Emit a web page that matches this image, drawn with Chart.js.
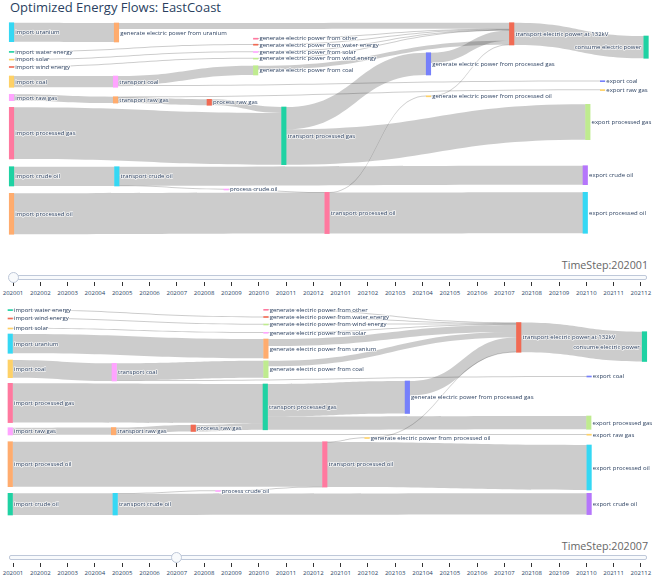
<!DOCTYPE html>
<html>
<head>
<meta charset="utf-8">
<script src="https://cdn.jsdelivr.net/npm/chart.js@4"></script>
<style>
  body { margin: 0; width: 654px; height: 580px; background: #fff; position: relative; overflow: hidden; font-family: "Open Sans", sans-serif; }
  #title { position: absolute; left: 10px; top: 0px; font-size: 13px; line-height: 1.2; color: #2a3f5f; white-space: nowrap; }
  canvas { position: absolute; left: 0; }
  .cv { position: absolute; right: 6px; font-size: 10.7px; line-height: 1; color: #666; white-space: nowrap; }
  .rail { position: absolute; left: 9px; width: 636px; height: 3px; background: #f8fafc; border: 1px solid #bec8d9; border-radius: 2px; }
  .grip { position: absolute; width: 9px; height: 9px; border-radius: 50%; background: #f8fafc; border: 1px solid #bec8d9; }
  .tick { position: absolute; width: 1px; height: 4px; background: #333; }
  .tl { position: absolute; font-size: 6px; line-height: 1; color: #2a3f5f; transform: translateX(-50%); white-space: nowrap; }
</style>
</head>
<body>
<div id="title">Optimized Energy Flows: EastCoast</div>
<canvas id="sankeyJan" width="654" height="220" style="top:18px"></canvas>
<canvas id="sankeyJul" width="654" height="220" style="top:303px"></canvas>

<script>
// ---- data ----
const timeSteps = ['202001', '202002', '202003', '202004', '202005', '202006', '202007', '202008',
  '202009', '202010', '202011', '202012', '202101', '202102', '202103', '202104', '202105', '202106',
  '202107', '202108', '202109', '202110', '202111', '202112'];

const nodeNames = [
  'import uranium', 'import water energy', 'import solar', 'import wind energy', 'import coal',
  'import raw gas', 'import processed gas', 'import crude oil', 'import processed oil',
  'generate electric power from uranium', 'transport coal', 'transport raw gas', 'transport crude oil',
  'process raw gas', 'process crude oil',
  'generate electric power from other', 'generate electric power from water energy',
  'generate electric power from solar', 'generate electric power from wind energy',
  'generate electric power from coal', 'transport processed gas', 'transport processed oil',
  'generate electric power from processed gas', 'generate electric power from processed oil',
  'transport electric power at 132kV', 'export processed gas', 'export crude oil',
  'export processed oil', 'export coal', 'export raw gas', 'consume electric power'
];

const linkSources = [
  'import uranium', 'import water energy', 'import solar', 'import wind energy', 'import coal',
  'import raw gas', 'import processed gas', 'import crude oil', 'import processed oil',
  'transport coal', 'transport coal', 'transport raw gas', 'transport raw gas',
  'transport crude oil', 'transport crude oil', 'process raw gas', 'process crude oil',
  'transport processed gas', 'transport processed gas', 'transport processed oil', 'transport processed oil',
  'generate electric power from uranium', 'generate electric power from other',
  'generate electric power from water energy', 'generate electric power from solar',
  'generate electric power from wind energy', 'generate electric power from coal',
  'generate electric power from processed gas', 'generate electric power from processed oil',
  'transport electric power at 132kV'
];
const linkTargets = [
  'generate electric power from uranium', 'generate electric power from water energy',
  'generate electric power from solar', 'generate electric power from wind energy', 'transport coal',
  'transport raw gas', 'transport processed gas', 'transport crude oil', 'transport processed oil',
  'generate electric power from coal', 'export coal', 'process raw gas', 'export raw gas',
  'export crude oil', 'process crude oil', 'transport processed gas', 'transport processed oil',
  'generate electric power from processed gas', 'export processed gas',
  'generate electric power from processed oil', 'export processed oil',
  'transport electric power at 132kV', 'transport electric power at 132kV',
  'transport electric power at 132kV', 'transport electric power at 132kV',
  'transport electric power at 132kV', 'transport electric power at 132kV',
  'transport electric power at 132kV', 'transport electric power at 132kV',
  'consume electric power'
];

// flow values per time step
const flowJan = [19, 0.6, 0.4, 0.4, 11.3, 6.4, 51.7, 19.3, 41,
  9.3, 0.8, 6, 0.4, 19, 0.3, 6, 0.3, 22.3, 35.4, 0.3, 41,
  6, 0.4, 0.6, 0.4, 0.4, 4, 10.2, 0.3, 22.3];
const flowJul = [19.3, 0.8, 0.5, 0.5, 17.7, 7.3, 39.3, 21.7, 45,
  16.9, 0.8, 6.5, 0.8, 21.3, 0.4, 6.5, 0.4, 32.5, 13.3, 0.4, 45,
  7, 0.5, 0.8, 0.6, 0.5, 5.5, 14.5, 0.4, 29.8];

// node placement (stage along the chain 0-100, level = top of node in flow units)
const stageJan = [0.55, 0.55, 0.55, 0.55, 0.55, 0.55, 0.55, 0.55, 0.55,
  16.95, 16.8, 16.8, 17, 31.45, 34.1, 38.7, 38.7, 38.7, 38.7, 38.7,
  43.1, 49.85, 65.7, 65.7, 78.7, 90.6, 90.2, 90.2, 92.9, 92.9, 99.7];
const levelJan = [4.7, 33.4, 41.1, 48.5, 58, 76.3, 89.3, 148.7, 175.3,
  5, 58, 78.7, 148.7, 81.3, 171, 20.2, 26.2, 33.5, 40.1, 47.7,
  89, 174.3, 34.7, 77.8, 4.7, 86.3, 147.7, 174.3, 62.7, 71.6, 18];
const stageJul = [0.35, 0.35, 0.35, 0.35, 0.35, 0.35, 0.35, 0.35, 0.35,
  40.3, 16.6, 16.5, 16.75, 28.95, 32.8, 40.3, 40.3, 40.3, 40.3, 40.3,
  40.2, 49.5, 62.4, 56.1, 79.8, 90.75, 90.8, 90.8, 90.8, 90.8, 99.45];
const levelJul = [31, 6.6, 25, 15, 57, 124.7, 80.3, 190.3, 138.7,
  36, 60.3, 124.5, 190.3, 122, 187.5, 6.3, 13.5, 29.3, 21, 57.8,
  81, 138.7, 78, 134.5, 19.5, 113, 190.3, 142, 73, 131.2, 28.7];

// ---- styles ----
const nodeColors = ['#19d3f3', '#00cc96', '#FECB52', '#EF553B', '#FECB52', '#FF97FF', '#FF6692', '#00cc96', '#FFA15A',
  '#FFA15A', '#FF97FF', '#FFA15A', '#19d3f3', '#EF553B', '#FF97FF', '#FF6692', '#EF553B', '#FF97FF', '#B6E880', '#B6E880',
  '#00cc96', '#FF6692', '#636efa', '#FECB52', '#EF553B', '#B6E880', '#AB63FA', '#19d3f3', '#636efa', '#FECB52', '#00cc96'];
const NODE_W = 4.5;
const MIN_LINK_PX = 1;
const LINK_COLOR = 'rgba(0,0,0,0.2)';
const LABEL_COLOR = '#2a3f5f';

const srcIdx = linkSources.map(n => nodeNames.indexOf(n));
const tgtIdx = linkTargets.map(n => nodeNames.indexOf(n));

function nodeHeights(values) {
  return nodeNames.map((_, i) => {
    let inSum = 0, outSum = 0;
    values.forEach((v, k) => {
      if (tgtIdx[k] === i) inSum += v;
      if (srcIdx[k] === i) outSum += v;
    });
    return Math.max(inSum, outSum);
  });
}

// stack links on each node, ordered by the vertical position of the other end
function stackLinks(values, levels, heights) {
  const centre = i => levels[i] + heights[i] / 2;
  const outStart = [], inStart = [];
  const ids = values.map((_, k) => k);
  nodeNames.forEach((_, n) => {
    let off = levels[n];
    ids.filter(k => srcIdx[k] === n)
      .sort((a, b) => centre(tgtIdx[a]) - centre(tgtIdx[b]))
      .forEach(k => { outStart[k] = off; off += values[k]; });
    off = levels[n];
    ids.filter(k => tgtIdx[k] === n)
      .sort((a, b) => centre(srcIdx[a]) - centre(srcIdx[b]))
      .forEach(k => { inStart[k] = off; off += values[k]; });
  });
  return { outStart, inStart };
}

// widen very thin bands a little so they stay visible
function band(y, from, v) {
  let p0 = y.getPixelForValue(from), p1 = y.getPixelForValue(from + v);
  if (Math.abs(p1 - p0) < MIN_LINK_PX) {
    const m = (p0 + p1) / 2;
    p0 = m - MIN_LINK_PX / 2; p1 = m + MIN_LINK_PX / 2;
  }
  return [p0, p1];
}

const sankeyPlugin = {
  id: 'sankey',
  beforeDatasetsDraw(chart, args, opts) {
    const { ctx, scales: { x, y } } = chart;
    const { values, stages, levels } = opts;
    const heights = nodeHeights(values);
    const { outStart, inStart } = stackLinks(values, levels, heights);
    ctx.save();
    ctx.fillStyle = LINK_COLOR;
    values.forEach((v, k) => {
      const s = srcIdx[k], t = tgtIdx[k];
      const x0 = x.getPixelForValue(stages[s]) + NODE_W / 2;
      const x1 = x.getPixelForValue(stages[t]) - NODE_W / 2;
      const [a0, a1] = band(y, outStart[k], v);
      const [b0, b1] = band(y, inStart[k], v);
      const xm = (x0 + x1) / 2;
      ctx.beginPath();
      ctx.moveTo(x0, a0);
      ctx.bezierCurveTo(xm, a0, xm, b0, x1, b0);
      ctx.lineTo(x1, b1);
      ctx.bezierCurveTo(xm, b1, xm, a1, x0, a1);
      ctx.closePath();
      ctx.fill();
    });
    ctx.restore();
  },
  afterDatasetsDraw(chart, args, opts) {
    const { ctx, scales: { x, y } } = chart;
    const { values, stages, levels } = opts;
    const heights = nodeHeights(values);
    ctx.save();
    ctx.font = '6px "Open Sans"';
    ctx.textBaseline = 'middle';
    ctx.lineJoin = 'round';
    nodeNames.forEach((name, i) => {
      const cy = y.getPixelForValue(levels[i] + heights[i] / 2);
      const cx = x.getPixelForValue(stages[i]);
      let tx;
      if (stages[i] > 95) { ctx.textAlign = 'right'; tx = cx - NODE_W / 2 - 2.5; }
      else { ctx.textAlign = 'left'; tx = cx + NODE_W / 2 + 1.5; }
      ctx.strokeStyle = 'rgba(255,255,255,0.75)';
      ctx.lineWidth = 1.6;
      ctx.strokeText(name, tx, cy + 0.3);
      ctx.fillStyle = LABEL_COLOR;
      ctx.fillText(name, tx, cy + 0.3);
    });
    ctx.restore();
  }
};

function drawSankey(id, values, stages, levels) {
  const heights = nodeHeights(values);
  return new Chart(document.getElementById(id), {
    type: 'bar',
    data: {
      datasets: [{
        data: nodeNames.map((_, i) => ({ x: stages[i], y: [levels[i], levels[i] + heights[i]] })),
        backgroundColor: nodeColors.map(c => c + 'E0'),
        borderWidth: 0,
        barThickness: NODE_W,
        minBarLength: 1,
        clip: false
      }]
    },
    options: {
      responsive: false,
      animation: false,
      events: [],
      layout: { padding: { left: 8, right: 6, top: 0, bottom: 0 } },
      scales: {
        x: { type: 'linear', min: 0, max: 100, offset: false, display: false },
        y: { type: 'linear', min: 0, max: 220, reverse: true, display: false }
      },
      plugins: {
        legend: { display: false },
        tooltip: { enabled: false },
        sankey: { values, stages, levels }
      }
    },
    plugins: [sankeyPlugin]
  });
}

drawSankey('sankeyJan', flowJan, stageJan, levelJan);
drawSankey('sankeyJul', flowJul, stageJul, levelJul);

// ---- time-step sliders ----
function addSlider(active, labelY, railY, tickY, tickLabelY) {
  const first = 13, step = 27.3;
  const add = (cls, css, text) => {
    const el = document.createElement('div');
    el.className = cls;
    Object.assign(el.style, css);
    if (text) el.textContent = text;
    document.body.appendChild(el);
  };
  add('cv', { top: (labelY - 5.5) + 'px' }, 'TimeStep:' + timeSteps[active]);
  add('rail', { top: (railY - 2.5) + 'px' });
  timeSteps.forEach((t, i) => {
    const px = first + i * step;
    add('tick', { left: (px - 0.5) + 'px', top: tickY + 'px' });
    add('tl', { left: px + 'px', top: (tickLabelY - 3) + 'px' }, t);
  });
  add('grip', { left: (first + active * step - 5.5) + 'px', top: (railY - 5.5) + 'px' });
}

addSlider(timeSteps.indexOf('202001'), 265, 277, 282, 292.5);
addSlider(timeSteps.indexOf('202007'), 546, 557.5, 563, 572.5);
</script>
</body>
</html>
